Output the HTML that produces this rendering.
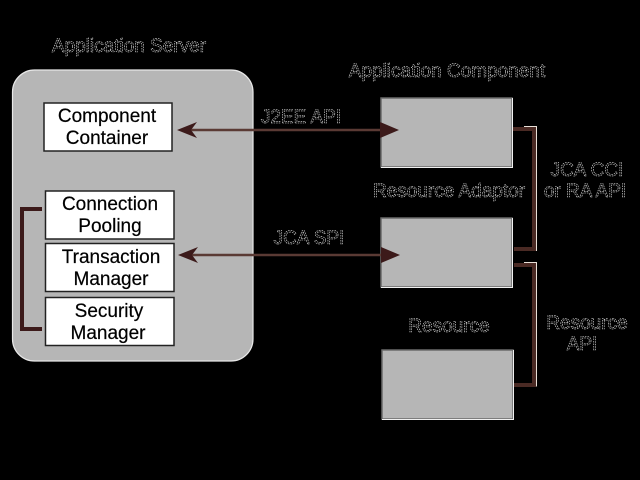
<!DOCTYPE html>
<html><head><meta charset="utf-8"><style>html,body{margin:0;padding:0;background:#000;width:640px;height:480px;overflow:hidden}svg{display:block}
.o{font-family:"Liberation Sans",sans-serif;font-size:19px;fill:#000;stroke:#e0e0e0;stroke-width:.6;stroke-dasharray:1.5 1;text-anchor:middle}
.b{font-family:"Liberation Sans",sans-serif;font-size:19px;fill:#000;stroke:#000;stroke-width:.2;text-anchor:middle}
.n{fill:#fff;stroke:#222;stroke-width:1.5}.g{fill:#b6b6b6;stroke:#6a6a6a;stroke-width:1.500}
.c{fill:none;stroke:#4a2a24;stroke-width:4}.h{fill:none;stroke:#e8e0d8;stroke-width:1}</style></head><body>
<svg width="640" height="480" viewBox="0 0 640 480" xmlns="http://www.w3.org/2000/svg">
<rect width="640" height="480" fill="#000"/>
<rect x="12.500" y="70" width="240.500" height="291" rx="22" fill="#b6b6b6" stroke="#e8e8e8" stroke-width="1.200"/>
<path d="M42 209H22V329H42" fill="none" stroke="#3c1a1a" stroke-width="4"/>
<rect class="n" x="44" y="103" width="128" height="48"/>
<rect class="n" x="45.500" y="191" width="128.500" height="48"/>
<rect class="n" x="45.500" y="243.500" width="128.500" height="48"/>
<rect class="n" x="45.500" y="297.500" width="128.500" height="48"/>
<text class="b" x="107" y="122">Component</text><text class="b" x="107" y="144">Container</text>
<text class="b" x="110" y="210">Connection</text><text class="b" x="110" y="232">Pooling</text>
<text class="b" x="111" y="263">Transaction</text><text class="b" x="111" y="285">Manager</text>
<text class="b" x="109" y="317">Security</text><text class="b" x="108" y="339">Manager</text>
<rect class="g" x="381" y="98" width="131" height="69"/>
<rect class="g" x="381" y="218" width="131" height="69"/>
<rect class="g" x="382" y="350" width="131" height="69"/>
<path d="M381 167.500H512.500V98M381 287.500H512.500V218M382 419.500H513.500V350" fill="none" stroke="#f0f0f0" stroke-width="1"/>
<path d="M190 130H385M190 255H385" stroke="#5a3a34" stroke-width="2.500" fill="none"/>
<path d="M177 130L197 122L191 130L197 138Z M178 255L198 247L192 255L198 263Z" fill="#3c1a1a"/>
<path d="M380 122L399 130L380 138Z M381 247L400 255L381 263Z" fill="#3c1a1a"/>
<path class="c" d="M513 129H534V249H514"/>
<path class="c" d="M514 265H534V385H514"/>
<path class="h" d="M524 126.500H536.500V251M524 262.500H536.500V386.500"/>
<text class="o" x="129" y="52">Application Server</text>
<text class="o" x="447" y="77">Application Component</text>
<text class="o" x="301" y="123">J2EE API</text>
<text class="o" x="309" y="244">JCA SPI</text>
<text class="o" x="449" y="197">Resource Adaptor</text>
<text class="o" x="587" y="176">JCA CCI</text>
<text class="o" x="585" y="197">or RA API</text>
<text class="o" x="449" y="332">Resource</text>
<text class="o" x="587" y="329">Resource</text>
<text class="o" x="582" y="350">API</text>
</svg></body></html>
